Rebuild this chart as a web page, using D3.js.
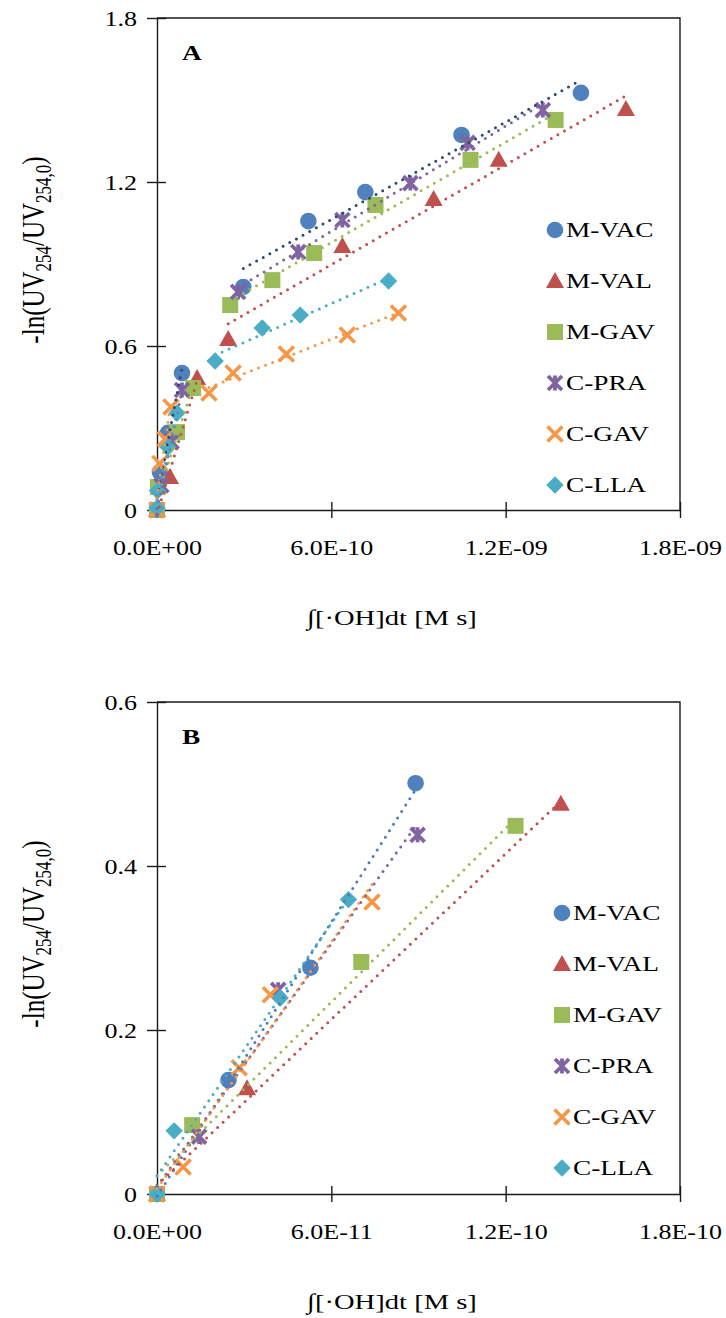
<!DOCTYPE html>
<html>
<head>
<meta charset="utf-8">
<script src="https://cdn.jsdelivr.net/npm/d3@7"></script>
<style>
  body { margin: 0; background: #fff; }
  svg { display: block; }
</style>
</head>
<body>
<svg id="chart" width="726" height="1318"></svg>
<script>
const seriesNames = ["M-VAC", "M-VAL", "M-GAV", "C-PRA", "C-GAV", "C-LLA"];
const markerTypes = ["circle", "triangle", "square", "star", "x", "diamond"];
const markerColors = ["#4f81bd", "#c0504d", "#9bbb59", "#8064a2", "#f79646", "#4bacc6"];
const lineColorsA = ["#2a4a73", "#c0504d", "#9bbb59", "#8064a2", "#f79646", "#4bacc6"];
const lineColorsB = ["#4a7ebb", "#c0504d", "#9bbb59", "#8064a2", "#f79646", "#4bacc6"];

// panel A : x in units of 1e-10 M s, two phases each (1 = fast, 2 = slow)
const aVac1 = [[0, 0], [0.10, 0.139], [0.38, 0.282], [0.86, 0.501]];
const aVac2 = [[2.97, 0.816], [5.21, 1.057], [7.17, 1.163], [10.48, 1.372], [14.59, 1.526]];
const aVal1 = [[0, 0], [0.45, 0.121], [1.38, 0.483]];
const aVal2 = [[2.45, 0.626], [6.38, 0.966], [9.52, 1.138], [11.76, 1.281], [16.14, 1.467]];
const aGav1 = [[0, 0], [0.03, 0.084], [0.69, 0.285], [1.24, 0.446]];
const aGav2 = [[2.52, 0.750], [3.97, 0.841], [5.41, 0.940], [7.52, 1.116], [10.79, 1.281], [13.72, 1.427]];
const aPra1 = [[0, 0], [0.15, 0.09], [0.50, 0.25], [0.86, 0.439]];
const aPra2 = [[2.79, 0.798], [4.86, 0.944], [6.38, 1.061], [8.72, 1.196], [10.69, 1.343], [13.28, 1.463]];
const aCgav1 = [[0, 0], [0.10, 0.17], [0.28, 0.26], [0.48, 0.377]];
const aCgav2 = [[1.79, 0.428], [2.62, 0.501], [4.45, 0.571], [6.55, 0.640], [8.31, 0.721]];
const aLla1 = [[0, 0.007], [0.02, 0.07], [0.38, 0.23], [0.69, 0.355]];
const aLla2 = [[2.00, 0.545], [3.62, 0.666], [4.93, 0.713], [7.97, 0.838]];

// panel B : x in units of 1e-11 M s
const bVac = [[0, 0], [2.46, 0.139], [5.28, 0.276], [8.90, 0.501]];
const bVal = [[0, 0], [3.10, 0.129], [13.90, 0.476]];
const bGav = [[0, 0], [1.21, 0.084], [7.03, 0.283], [12.34, 0.449]];
const bPra = [[0, 0], [1.45, 0.070], [4.17, 0.249], [8.97, 0.438]];
const bCgav = [[0, 0], [0.90, 0.033], [2.83, 0.154], [3.90, 0.243], [7.40, 0.356]];
const bLla = [[0, 0], [0.59, 0.077], [4.24, 0.239], [6.59, 0.359]];

const xTickValues = [0, 6, 12, 18];
const aXTickLabels = ["0.0E+00", "6.0E-10", "1.2E-09", "1.8E-09"];
const bXTickLabels = ["0.0E+00", "6.0E-11", "1.2E-10", "1.8E-10"];
const aYTicks = [0, 0.6, 1.2, 1.8];
const aYTickLabels = ["0", "0.6", "1.2", "1.8"];
const bYTicks = [0, 0.2, 0.4, 0.6];
const bYTickLabels = ["0", "0.2", "0.4", "0.6"];

const FONT = "'Liberation Serif', 'Times New Roman', serif";
const STRETCH = 1.3;   // the original figure is stretched sideways
const AXIS = "#1a1a1a";
const svg = d3.select("#chart");

// least squares line over a set of points, drawn over their x range
function fitLine(pts) {
  const mx = d3.mean(pts, d => d[0]), my = d3.mean(pts, d => d[1]);
  const sxy = d3.sum(pts, d => (d[0] - mx) * (d[1] - my));
  const sxx = d3.sum(pts, d => (d[0] - mx) ** 2);
  const b = sxy / sxx, a = my - b * mx;
  const [x0, x1] = d3.extent(pts, d => d[0]);
  return [[x0, a + b * x0], [x1, a + b * x1]];
}

function drawMarker(g, type, color, cx, cy) {
  const m = g.append("g").attr("transform", `translate(${cx},${cy})`);
  if (type === "circle") {
    m.append("circle").attr("r", 8.3).attr("fill", color);
  } else if (type === "square") {
    m.append("rect").attr("x", -8).attr("y", -8).attr("width", 16).attr("height", 16).attr("fill", color);
  } else if (type === "triangle") {
    m.append("path").attr("d", "M0,-9L9,7L-9,7Z").attr("fill", color);
  } else if (type === "diamond") {
    m.append("path").attr("d", "M0,-8.7L8.7,0L0,8.7L-8.7,0Z").attr("fill", color);
  } else if (type === "x") {
    m.append("path").attr("d", "M-7.5,-7.5L7.5,7.5M-7.5,7.5L7.5,-7.5")
      .attr("stroke", color).attr("stroke-width", 3.6).attr("fill", "none");
  } else if (type === "star") {
    m.append("path").attr("d", "M-7,-7L7,7M-7,7L7,-7M0,-7.5L0,7.5")
      .attr("stroke", color).attr("stroke-width", 3.8).attr("fill", "none");
  }
}

function drawPanel(cfg) {
  const g = svg.append("g");
  const x = d3.scaleLinear().domain([0, 18]).range([157, 680]);
  const y = d3.scaleLinear().domain([0, cfg.yMax]).range([cfg.bottom, cfg.top]);

  // plot frame (top and right)
  g.append("path")
    .attr("d", `M${x(0)},${y(cfg.yMax)}H${x(18)}V${y(0)}`)
    .attr("fill", "none").attr("stroke", AXIS).attr("stroke-width", 1.4);

  // x axis
  g.append("g")
    .attr("transform", `translate(0,${cfg.bottom})`)
    .call(d3.axisBottom(x).tickValues(xTickValues).tickFormat((d, i) => cfg.xLabels[i]).tickSizeOuter(0))
    .call(a => a.select(".domain").attr("stroke", AXIS).attr("stroke-width", 1.4))
    .call(a => a.selectAll(".tick line").attr("y1", -8).attr("y2", 8).attr("stroke", AXIS).attr("stroke-width", 1.4))
    .call(a => a.selectAll(".tick text")
      .attr("y", null).attr("dy", null)
      .attr("transform", `translate(0,45) scale(${STRETCH},1)`)
      .attr("font-family", FONT).attr("font-size", 20).attr("fill", "#000"));

  // y axis
  g.append("g")
    .attr("transform", `translate(${x(0)},0)`)
    .call(d3.axisLeft(y).tickValues(cfg.yTicks).tickFormat((d, i) => cfg.yLabels[i]).tickSizeOuter(0))
    .call(a => a.select(".domain").attr("stroke", AXIS).attr("stroke-width", 1.4))
    .call(a => a.selectAll(".tick line").attr("x1", -10).attr("x2", 9).attr("stroke", AXIS).attr("stroke-width", 1.4))
    .call(a => a.selectAll(".tick text")
      .attr("x", null).attr("dy", null)
      .attr("transform", `translate(-20,7) scale(${STRETCH},1)`)
      .attr("font-family", FONT).attr("font-size", 20).attr("fill", "#000"));

  // markers first, trendlines on top
  cfg.series.forEach((s, i) => {
    s.points.forEach(p => drawMarker(g, markerTypes[i], markerColors[i], x(p[0]), y(p[1])));
  });
  cfg.series.forEach((s, i) => {
    s.fits.forEach(pts => {
      const ln = fitLine(pts);
      g.append("line")
        .attr("x1", x(ln[0][0])).attr("y1", y(ln[0][1]))
        .attr("x2", x(ln[1][0])).attr("y2", y(ln[1][1]))
        .attr("stroke", cfg.lineColors[i]).attr("stroke-width", 3)
        .attr("stroke-linecap", "round").attr("stroke-dasharray", "0 7.6");
    });
  });

  // panel letter
  g.append("text")
    .attr("transform", `translate(182,${cfg.top + 42}) scale(${STRETCH},1)`)
    .attr("font-family", FONT).attr("font-weight", "bold").attr("font-size", 21)
    .text(cfg.letter);

  // legend
  seriesNames.forEach((name, i) => {
    const ly = cfg.legendY + i * 51;
    drawMarker(g, markerTypes[i], markerColors[i], cfg.legendX, ly);
    g.append("text")
      .attr("transform", `translate(${cfg.legendX + 11},${ly + 7}) scale(${STRETCH},1)`)
      .attr("font-family", FONT).attr("font-size", 21).attr("fill", "#000")
      .text(name);
  });

  // axis titles
  g.append("text")
    .attr("transform", `translate(392,${cfg.bottom + 115}) scale(${STRETCH},1)`)
    .attr("text-anchor", "middle")
    .attr("font-family", FONT).attr("font-size", 22).attr("fill", "#000")
    .text("\u222B[\u00B7OH]dt [M s]");

  const yt = g.append("text")
    .attr("transform", `translate(44,${cfg.titleY}) scale(${STRETCH},1) rotate(-90)`)
    .attr("text-anchor", "middle")
    .attr("font-family", FONT).attr("font-size", 25).attr("fill", "#000");
  yt.append("tspan").text("-ln(UV");
  yt.append("tspan").attr("dy", 5).attr("font-size", 17).text("254");
  yt.append("tspan").attr("dy", -5).text("/UV");
  yt.append("tspan").attr("dy", 5).attr("font-size", 17).text("254,0");
  yt.append("tspan").attr("dy", -5).text(")");
}

drawPanel({
  top: 18, bottom: 510, yMax: 1.8,
  yTicks: aYTicks, yLabels: aYTickLabels, xLabels: aXTickLabels,
  letter: "A", legendX: 555, legendY: 230, titleY: 250,
  lineColors: lineColorsA,
  series: [
    { points: [...aVac1, ...aVac2], fits: [aVac1, aVac2] },
    { points: [...aVal1, ...aVal2], fits: [aVal1, aVal2] },
    { points: [...aGav1, ...aGav2], fits: [aGav1, aGav2] },
    { points: [...aPra1, ...aPra2], fits: [aPra1, aPra2] },
    { points: [...aCgav1, ...aCgav2], fits: [aCgav1, aCgav2] },
    { points: [...aLla1, ...aLla2], fits: [aLla1, aLla2] }
  ]
});

drawPanel({
  top: 702, bottom: 1194, yMax: 0.6,
  yTicks: bYTicks, yLabels: bYTickLabels, xLabels: bXTickLabels,
  letter: "B", legendX: 562, legendY: 913, titleY: 934,
  lineColors: lineColorsB,
  series: [
    { points: bVac, fits: [bVac] },
    { points: bVal, fits: [bVal] },
    { points: bGav, fits: [bGav] },
    { points: bPra, fits: [bPra] },
    { points: bCgav, fits: [bCgav] },
    { points: bLla, fits: [bLla] }
  ]
});
</script>
</body>
</html>
